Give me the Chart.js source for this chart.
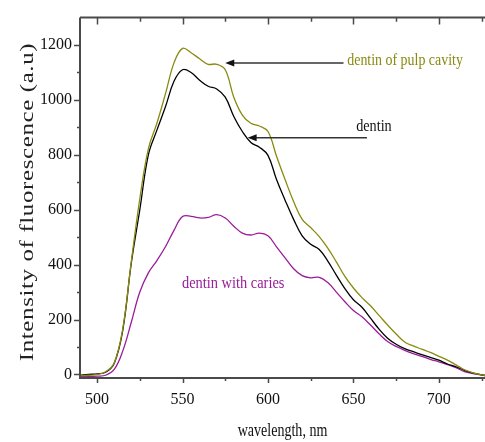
<!DOCTYPE html>
<html>
<head>
<meta charset="utf-8">
<script src="https://cdn.jsdelivr.net/npm/chart.js@4/dist/chart.umd.min.js"></script>
<style>
  html, body { margin: 0; padding: 0; background: #fff; }
  #wrap { width: 485px; height: 442px; }
</style>
</head>
<body>
<div id="wrap"><canvas id="spectra" width="485" height="442"></canvas></div>
<script>
// wavelength grid (nm) shared by the three spectra
const wavelengths = [490, 495, 500, 505, 510, 515, 520, 525, 530, 535, 540, 545, 550, 555, 560, 565, 570, 575, 580, 585, 590, 595, 600, 605, 610, 615, 620, 625, 630, 635, 640, 645, 650, 655, 660, 665, 670, 675, 680, 685, 690, 695, 700, 705, 710, 715, 720, 727];

const pulpCavity = [-5, -3, 0, 10, 42, 165, 410, 640, 822, 915, 1022, 1135, 1188, 1172, 1150, 1130, 1130, 1110, 1010, 945, 915, 905, 885, 795, 710, 630, 565, 535, 502, 460, 410, 357, 315, 280, 250, 215, 180, 147, 118, 104, 92, 80, 66, 52, 35, 17, 6, -4];
const dentin = [-3, 0, 2, 8, 40, 160, 405, 600, 800, 890, 975, 1068, 1110, 1100, 1072, 1050, 1040, 1010, 940, 885, 845, 828, 798, 710, 635, 565, 505, 474, 455, 413, 362, 313, 272, 245, 205, 165, 132, 110, 94, 83, 72, 62, 52, 38, 28, 15, 5, -4];
const caries = [-7, -7, -6, -3, 18, 85, 190, 300, 370, 415, 465, 525, 575, 576, 570, 572, 582, 570, 540, 515, 508, 515, 505, 465, 425, 385, 360, 352, 354, 335, 300, 265, 233, 210, 180, 148, 120, 102, 88, 76, 66, 55, 46, 36, 25, 10, 3, -4];

const xMajor = [500, 550, 600, 650, 700];
const xMinor = [525, 575, 625, 675, 725];
const yMajor = [0, 200, 400, 600, 800, 1000, 1200];
const yMinor = [100, 300, 500, 700, 900, 1100];

const OLIVE = "#8a8a10";
const PURPLE = "#9a1c9a";
const AXIS = "#4a4a4a";
const SERIF = "'Liberation Serif', 'Times New Roman', serif";

const toPoints = vals => wavelengths.map((w, i) => ({ x: w, y: vals[i] }));

// draw text squeezed horizontally, like the scanned figure
function squeezed(ctx, text, x, y, sx, font, color, align) {
  ctx.save();
  ctx.translate(x, y);
  ctx.scale(sx, 1);
  ctx.font = font;
  ctx.fillStyle = color;
  ctx.textAlign = align || "left";
  ctx.textBaseline = "alphabetic";
  ctx.fillText(text, 0, 0);
  ctx.restore();
}

function arrow(ctx, x1, x2, y) {
  ctx.save();
  ctx.strokeStyle = "#333";
  ctx.fillStyle = "#111";
  ctx.lineWidth = 1.5;
  ctx.beginPath();
  ctx.moveTo(x1, y);
  ctx.lineTo(x2 + 8, y);
  ctx.stroke();
  ctx.beginPath();
  ctx.moveTo(x2, y);
  ctx.lineTo(x2 + 9, y - 3.5);
  ctx.lineTo(x2 + 9, y + 3.5);
  ctx.closePath();
  ctx.fill();
  ctx.restore();
}

const framePlugin = {
  id: "frame",
  afterDraw(chart) {
    const { ctx, chartArea: a, scales: { x, y } } = chart;
    ctx.save();
    ctx.strokeStyle = AXIS;
    ctx.lineWidth = 2;
    ctx.beginPath();
    ctx.moveTo(a.left, a.top); ctx.lineTo(a.right, a.top);
    ctx.moveTo(a.left, a.top); ctx.lineTo(a.left, a.bottom + 1);
    ctx.moveTo(a.left - 1, a.bottom); ctx.lineTo(a.right, a.bottom);
    ctx.stroke();

    ctx.lineWidth = 1.5;
    ctx.beginPath();
    xMajor.concat(xMinor).forEach(v => {
      const px = Math.round(x.getPixelForValue(v)) + 0.5;
      const len = xMajor.includes(v) ? 1 : 0.6;
      ctx.moveTo(px, a.bottom); ctx.lineTo(px, a.bottom + 5 * len);
      ctx.moveTo(px, a.top); ctx.lineTo(px, a.top + 7 * len);
    });
    yMajor.concat(yMinor).forEach(v => {
      const py = Math.round(y.getPixelForValue(v)) + 0.5;
      const len = yMajor.includes(v) ? 6 : 3;
      ctx.moveTo(a.left, py); ctx.lineTo(a.left - len, py);
    });
    ctx.stroke();
    ctx.restore();

    // axis titles
    ctx.save();
    ctx.translate(32.5, 202);
    ctx.rotate(-Math.PI / 2);
    ctx.scale(1, 0.78);
    ctx.font = "25px " + SERIF;
    ctx.letterSpacing = "0.6px";
    ctx.fillStyle = "#222";
    ctx.textAlign = "center";
    ctx.textBaseline = "alphabetic";
    ctx.fillText("Intensity of fluorescence (a.u)", 0, 0);
    ctx.restore();

    squeezed(ctx, "wavelength, nm", (a.left + a.right) / 2, 436, 0.78, "18px " + SERIF, "#111", "center");

    // annotations
    squeezed(ctx, "dentin of pulp cavity", x.getPixelForValue(646.4), y.getPixelForValue(1127), 0.87, "16px " + SERIF, OLIVE);
    arrow(ctx, x.getPixelForValue(644.2), x.getPixelForValue(575), y.getPixelForValue(1135));
    squeezed(ctx, "dentin", x.getPixelForValue(651.6), y.getPixelForValue(887), 0.89, "16px " + SERIF, "#111");
    arrow(ctx, x.getPixelForValue(657.9), x.getPixelForValue(588.1), y.getPixelForValue(862));
    squeezed(ctx, "dentin with caries", x.getPixelForValue(549.7), y.getPixelForValue(315), 0.9, "16px " + SERIF, PURPLE);
  }
};

const ctx = document.getElementById("spectra");
new Chart(ctx, {
  type: "line",
  data: {
    datasets: [
      { label: "dentin of pulp cavity", data: toPoints(pulpCavity), borderColor: OLIVE, borderWidth: 1.3 },
      { label: "dentin", data: toPoints(dentin), borderColor: "#000", borderWidth: 1.3 },
      { label: "dentin with caries", data: toPoints(caries), borderColor: PURPLE, borderWidth: 1.3 }
    ]
  },
  options: {
    responsive: false,
    animation: false,
    layout: { padding: { top: 16, left: 0, right: 0, bottom: 0 } },
    elements: {
      point: { radius: 0 },
      line: { tension: 0.4 }
    },
    plugins: {
      legend: { display: false },
      tooltip: { enabled: false }
    },
    scales: {
      x: {
        type: "linear",
        min: 490,
        max: 727,
        grid: { display: false, drawTicks: false },
        border: { display: false },
        ticks: { font: { family: SERIF, size: 16 }, color: "#111", padding: 12, maxRotation: 0, callback: v => String(v) },
        afterBuildTicks: scale => { scale.ticks = xMajor.map(v => ({ value: v })); },
        afterFit: scale => { scale.height = 64; }
      },
      y: {
        min: -13,
        max: 1300,
        grid: { display: false, drawTicks: false },
        border: { display: false },
        ticks: { font: { family: SERIF, size: 16 }, color: "#111", padding: 8, callback: v => String(v) },
        afterBuildTicks: scale => { scale.ticks = yMajor.map(v => ({ value: v })); },
        afterFit: scale => { scale.width = 80; }
      }
    }
  },
  plugins: [framePlugin]
});
</script>
</body>
</html>
